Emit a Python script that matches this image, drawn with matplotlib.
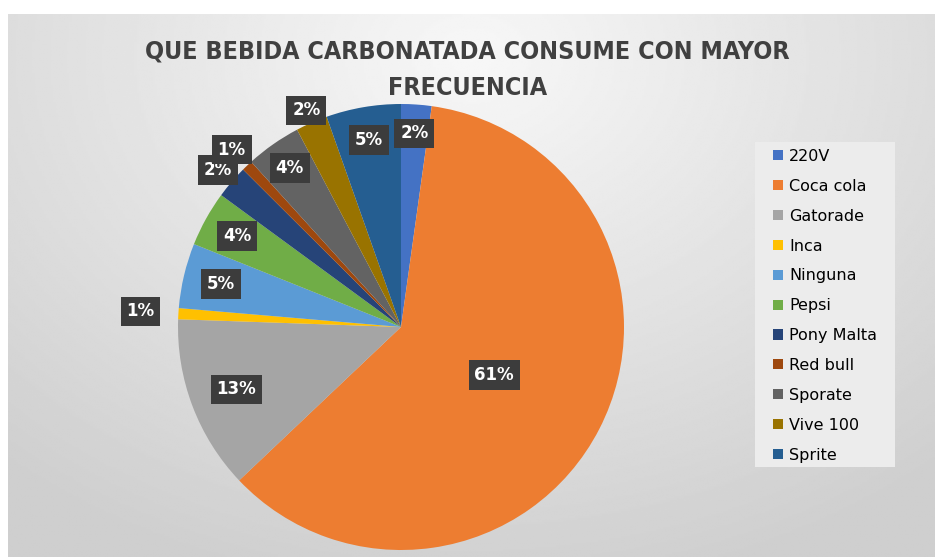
import numpy as np
import matplotlib
matplotlib.use('Agg')
import matplotlib.pyplot as plt
from matplotlib.patches import Rectangle

# Datos de la encuesta (porcentaje de respuestas)
categorias = ['220V', 'Coca cola', 'Gatorade', 'Inca', 'Ninguna', 'Pepsi',
              'Pony Malta', 'Red bull', 'Sporate', 'Vive 100', 'Sprite']
valores = [2.2, 60.6, 12.6, 0.8, 4.7, 4.0, 2.4, 0.8, 4.0, 2.3, 5.4]

colores = ['#4472C4', '#ED7D31', '#A5A5A5', '#FFC000', '#5B9BD5', '#70AD47',
           '#264478', '#9E480E', '#636363', '#997300', '#255E91']
# distancia radial de cada etiqueta (fraccion del radio)
dist_etiqueta = [0.87, 0.47, 0.79, 1.17, 0.83, 0.84, 1.08, 1.10, 0.87, 1.06, 0.85]

W, H = 935, 557
fig = plt.figure(figsize=(W / 100, H / 100), dpi=100)
fig.patch.set_facecolor('white')

# Fondo gris con degradado radial
bg = fig.add_axes([8 / W, 0, (W - 8) / W, (H - 14) / H])
gx, gy = np.meshgrid(np.linspace(0, 1, 400), np.linspace(0, 1, 300))
d = np.sqrt(((gx - 0.5) * 1.3) ** 2 + (gy - 0.08) ** 2)
gris = 0.97 - 0.16 * np.clip(d / 1.0, 0, 1)
bg.imshow(gris, cmap='gray', vmin=0, vmax=1, aspect='auto',
          extent=[0, 1, 1, 0], interpolation='bilinear')
bg.set_axis_off()

# Pastel
cx, cy, R = 401, 327, 223
ax = fig.add_axes([(cx - R) / W, (H - cy - R) / H, 2 * R / W, 2 * R / H])
wedges, _ = ax.pie(valores, colors=colores, startangle=90, counterclock=False,
                   radius=1, wedgeprops=dict(linewidth=0))
ax.set_xlim(-1, 1)
ax.set_ylim(-1, 1)
ax.set_axis_off()

total = sum(valores)
for w, v, r in zip(wedges, valores, dist_etiqueta):
    ang = np.deg2rad((w.theta1 + w.theta2) / 2)
    ax.text(r * np.cos(ang), r * np.sin(ang), f'{v / total * 100:.0f}%',
            ha='center', va='center', color='white', fontsize=12,
            fontweight='bold', clip_on=False,
            bbox=dict(boxstyle='square,pad=0.35', facecolor='#3c3c3c',
                      edgecolor='none'))

fig.text(0.5, 1 - 52 / H, 'QUE BEBIDA CARBONATADA CONSUME CON MAYOR',
         ha='center', va='center', fontsize=18, fontweight='bold', color='#404040',
         fontstretch='condensed')
fig.text(0.5, 1 - 88 / H, 'FRECUENCIA',
         ha='center', va='center', fontsize=18, fontweight='bold', color='#404040',
         fontstretch='condensed')

# Caja de la leyenda
fig.patches.append(Rectangle((755 / W, 1 - 467 / H), 140 / W, 325 / H,
                             transform=fig.transFigure, facecolor='#ececec',
                             edgecolor='none', zorder=1))
leg = fig.legend(wedges, categorias, loc='upper left',
                 bbox_to_anchor=(773 / W, 1 - 149 / H), fontsize=11.5,
                 frameon=False, labelspacing=0.93,
                 handlelength=0.6, handleheight=0.6, handletextpad=0.4,
                 borderpad=0, borderaxespad=0)

fig.savefig('out.png', dpi=100)
